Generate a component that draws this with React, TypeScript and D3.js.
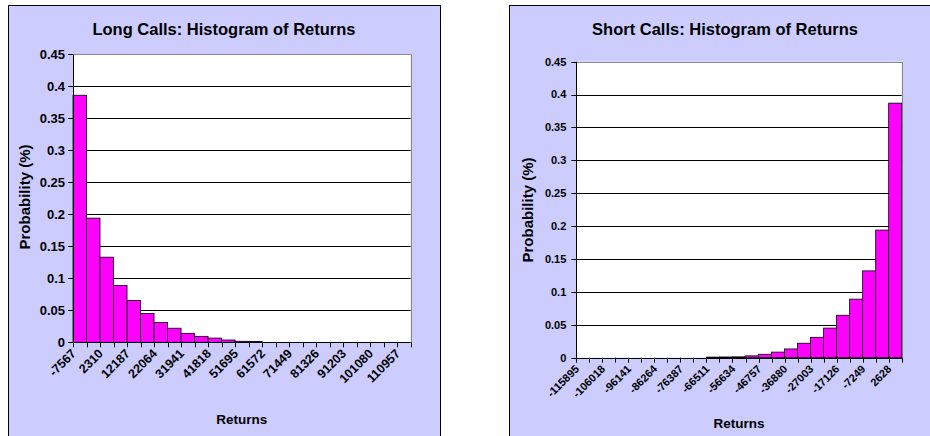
import React from 'react';
import { scaleBand, scaleLinear, range } from 'd3';

const PANEL_BG = '#ccccff';
const BAR_FILL = '#ff00ff';
const FONT = '"Liberation Sans", Arial, sans-serif';

// probability ticks shared by both charts
const yTicks = [0, 0.05, 0.1, 0.15, 0.2, 0.25, 0.3, 0.35, 0.4, 0.45];

// Long calls: bin labels (every second one is shown) and probabilities
const longBins = [
	'-7567', '-2629', '2310', '7248', '12187', '17125', '22064', '27002', '31941', '36879',
	'41818', '46756', '51695', '56633', '61572', '66510', '71449', '76387', '81326', '86264',
	'91203', '96141', '101080', '106018', '110957',
];
const longProb = [
	0.386, 0.194, 0.133, 0.089, 0.0655, 0.045, 0.031, 0.022, 0.014, 0.0093,
	0.0066, 0.0036, 0.0016, 0.0012, 0, 0, 0, 0, 0, 0,
	0, 0, 0, 0, 0,
];

// Short calls
const shortBins = [
	'-115895', '-110957', '-106018', '-101080', '-96141', '-91203', '-86264', '-81326', '-76387', '-71449',
	'-66511', '-61572', '-56634', '-51695', '-46757', '-41818', '-36880', '-31941', '-27003', '-22064',
	'-17126', '-12187', '-7249', '-2310', '2628',
];
const shortProb = [
	0, 0, 0, 0, 0, 0, 0, 0, 0, 0,
	0.0009, 0.0011, 0.0013, 0.0028, 0.0052, 0.0085, 0.0133, 0.022, 0.031, 0.045,
	0.0645, 0.089, 0.132, 0.194, 0.387,
];

type Box = { x: number; y: number; w: number; h: number };

interface HistProps {
	title: string;
	bins: string[];
	values: number[];
	panel: Box;
	plot: Box;
	tickFont: number;
	binFont: number;
	binDy: number;
	yLabelX: number;
	yLabelY: number;
	titleY: number;
	xLabelY: number;
	tickGap: number;
}

function Histogram(p: HistProps) {
	const { title, bins, values, panel, plot } = p;
	const x = scaleBand<string>().domain(bins).range([plot.x, plot.x + plot.w]).padding(0);
	const y = scaleLinear().domain([0, 0.45]).range([plot.y + plot.h, plot.y]);
	const bw = x.bandwidth();
	const base = y(0);
	const right = plot.x + plot.w;
	const px = (v: number) => Math.round(v) + 0.5;

	return (
		<g fontFamily={FONT} fontWeight="bold">
			<rect x={panel.x + 0.5} y={panel.y + 0.5} width={panel.w} height={panel.h} fill={PANEL_BG} stroke="#000" />
			<rect x={plot.x} y={plot.y} width={plot.w} height={plot.h} fill="#fff" />
			{yTicks.slice(1, -1).map((t) => (
				<line key={t} x1={plot.x} x2={right} y1={px(y(t))} y2={px(y(t))} stroke="#000" />
			))}
			{/* top and right edges of the plot area */}
			<path d={`M${plot.x},${px(plot.y)}H${px(right)}V${base}`} fill="none" stroke="#888" />
			{values.map((v, i) =>
				v > 0 ? (
					<rect
						key={bins[i]}
						x={x(bins[i])}
						y={y(v)}
						width={bw}
						height={base - y(v)}
						fill={BAR_FILL}
						stroke="#000"
						strokeWidth={0.8}
					/>
				) : null,
			)}
			{/* y axis */}
			<line x1={px(plot.x)} x2={px(plot.x)} y1={plot.y} y2={base} stroke="#000" />
			{yTicks.map((t) => (
				<g key={t}>
					<line x1={plot.x - 5} x2={plot.x} y1={px(y(t))} y2={px(y(t))} stroke="#000" />
					<text x={plot.x - p.tickGap} y={y(t)} dy="0.35em" textAnchor="end" fontSize={p.tickFont}>
						{String(+t.toFixed(2))}
					</text>
				</g>
			))}
			{/* x axis */}
			<line x1={plot.x} x2={right} y1={px(base)} y2={px(base)} stroke="#000" />
			{range(bins.length + 1).map((i) => {
				const tx = px(plot.x + i * bw);
				return <line key={i} x1={tx} x2={tx} y1={base} y2={base + 5} stroke="#000" />;
			})}
			{bins.map((b, i) =>
				i % 2 === 0 ? (
					<text
						key={b}
						transform={`translate(${(x(b) as number) + bw / 2 - 3},${base + p.binDy}) rotate(-45)`}
						textAnchor="end"
						fontSize={p.binFont}
					>
						{b}
					</text>
				) : null,
			)}
			<text x={panel.x + 216} y={p.titleY} textAnchor="middle" fontSize={16.5}>
				{title}
			</text>
			<text x={plot.x + plot.w / 2} y={p.xLabelY} textAnchor="middle" fontSize={13.5}>
				Returns
			</text>
			<text transform={`translate(${p.yLabelX},${p.yLabelY}) rotate(-90)`} textAnchor="middle" fontSize={15}>
				Probability (%)
			</text>
		</g>
	);
}

export default function App() {
	return (
		<div style={{ position: 'absolute', left: 0, top: 0 }}>
			<svg width={930} height={436} style={{ display: 'block', background: '#fff' }}>
				<Histogram
					title="Long Calls: Histogram of Returns"
					bins={longBins}
					values={longProb}
					panel={{ x: 8, y: 5, w: 432, h: 445 }}
					plot={{ x: 73, y: 54.3, w: 337.7, h: 288 }}
					tickFont={13}
					binFont={12.5}
					binDy={12}
					tickGap={8}
					yLabelX={30}
					yLabelY={197}
					titleY={35}
					xLabelY={424}
				/>
				<Histogram
					title="Short Calls: Histogram of Returns"
					bins={shortBins}
					values={shortProb}
					panel={{ x: 509, y: 5, w: 440, h: 445 }}
					plot={{ x: 576.3, y: 61.7, w: 325.4, h: 296 }}
					tickFont={11}
					binFont={11}
					binDy={12}
					tickGap={10}
					yLabelX={533}
					yLabelY={210}
					titleY={35}
					xLabelY={428}
				/>
			</svg>
		</div>
	);
}
